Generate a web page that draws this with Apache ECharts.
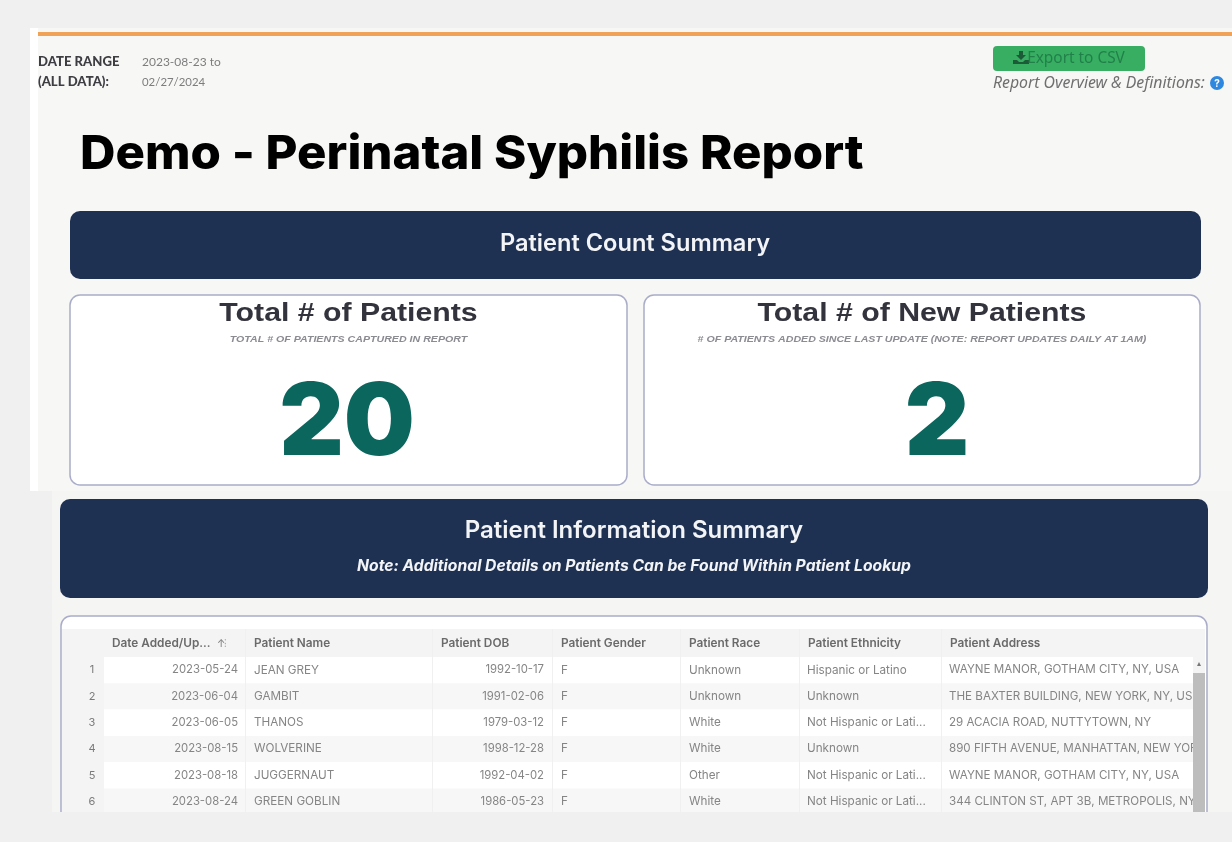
<!DOCTYPE html>
<html><head><meta charset="utf-8">
<style>html,body{margin:0;padding:0;background:#f0f0f0}#c{width:1232px;height:842px;filter:blur(.7px)}</style>
<script src="https://cdn.jsdelivr.net/npm/echarts@6/dist/echarts.min.js"></script>
</head><body><div id="c"></div>
<script>
const reportTitle = 'Demo - Perinatal Syphilis Report';
const dateRangeLabels = ['DATE RANGE', '(ALL DATA):'];
const dateRangeValues = ['2023-08-23 to', '02/27/2024'];
const totalPatients = 20;
const newPatients = 2;
const columns = ['', 'Date Added/Up...', 'Patient Name', 'Patient DOB', 'Patient Gender', 'Patient Race', 'Patient Ethnicity', 'Patient Address'];
const dateAdded = ['2023-05-24','2023-06-04','2023-06-05','2023-08-15','2023-08-18','2023-08-24'];
const names = ['JEAN GREY','GAMBIT','THANOS','WOLVERINE','JUGGERNAUT','GREEN GOBLIN'];
const dob = ['1992-10-17','1991-02-06','1979-03-12','1998-12-28','1992-04-02','1986-05-23'];
const gender = ['F','F','F','F','F','F'];
const race = ['Unknown','Unknown','White','White','Other','White'];
const ethnicity = ['Hispanic or Latino','Unknown','Not Hispanic or Lati...','Unknown','Not Hispanic or Lati...','Not Hispanic or Lati...'];
const address = ['WAYNE MANOR, GOTHAM CITY, NY, USA','THE BAXTER BUILDING, NEW YORK, NY, USA','29 ACACIA ROAD, NUTTYTOWN, NY','890 FIFTH AVENUE, MANHATTAN, NEW YORK','WAYNE MANOR, GOTHAM CITY, NY, USA','344 CLINTON ST, APT 3B, METROPOLIS, NY'];

const NAVY = '#1f3153', TEAL = '#0b665e', BORDER = '#a9adc9', SANS = 'Inter, "Noto Sans", sans-serif';
const g = [];
const rect = (x, y, w, h, fill, r, stroke, lw) => g.push({type:'rect', shape:{x, y, width:w, height:h, r:r||0},
  style:{fill:fill, stroke:stroke||null, lineWidth:lw||0}, silent:true});
const text = (x, y, t, o, sx) => g.push({type:'text', x, y, scaleX:sx||1, silent:true, style:Object.assign({text:String(t),
  fontFamily:SANS, fontSize:11, fill:'#333', align:'left', verticalAlign:'middle'}, o||{})});
const poly = (points, fill) => g.push({type:'polygon', shape:{points}, style:{fill}, silent:true});

// page panels
rect(30, 28, 1202, 463, '#f7f7f6');
rect(30, 28, 8, 463, '#ffffff');
rect(52, 491, 1180, 321, '#f5f5f4');
rect(38, 32, 1194, 4, '#f0a257');

// header left
dateRangeLabels.forEach((t, i) => text(38, 61.5 + i*20.5, t, {fontWeight:900, fontSize:12.5, fill:'#3d3d42', fontFamily:'Lato, sans-serif'}, 1.05));
dateRangeValues.forEach((t, i) => text(142, 62.5 + i*19.5, t, {fontSize:12, fill:'#7d7d7d', fontFamily:'Lato, sans-serif'}, i ? 0.95 : 1));

// export button
rect(993, 46, 152, 25, '#38ae62', 4);
poly([[1019,51],[1023,51],[1023,55],[1026,55],[1021,60],[1016,55],[1019,55]], '#1d5a37');
poly([[1013,60],[1017,60],[1019,62],[1023,62],[1025,60],[1029,60],[1029,64],[1013,64]], '#1d5a37');
text(1076, 58.5, 'Export to CSV', {align:'center', fontSize:15.4, fill:'#218049', fontFamily:'"Noto Sans", sans-serif'});
text(993, 83, 'Report Overview & Definitions:', {fontSize:15.8, fontStyle:'italic', fill:'#6f6f6f', fontFamily:'"Noto Sans", sans-serif'});
g.push({type:'circle', shape:{cx:1217, cy:83, r:7}, style:{fill:'#2f88e0'}, silent:true});
text(1217, 83.5, '?', {align:'center', fontSize:10, fontWeight:700, fill:'#ffffff'});

// title
text(80, 155, reportTitle, {fontSize:47, fontWeight:800, fill:'#000000', fontFamily:'Inter, sans-serif'}, 1.045);

// summary banner
rect(70, 211, 1131, 68, NAVY, 10);
text(635, 244, 'Patient Count Summary', {align:'center', fontSize:23.6, fontWeight:600, fill:'#f3f4f6'});

// KPI cards
const cards = [
  {x:70, w:557, t:'Total # of Patients', s:'TOTAL # OF PATIENTS CAPTURED IN REPORT', v:totalPatients, vx:347},
  {x:644, w:556, t:'Total # of New Patients', s:'# OF PATIENTS ADDED SINCE LAST UPDATE (NOTE: REPORT UPDATES DAILY AT 1AM)', v:newPatients, vx:937}
];
cards.forEach(c => {
  rect(c.x, 295, c.w, 190, '#ffffff', 10, BORDER, 1.5);
  const cx = c.x + c.w/2;
  text(cx, 314, c.t, {align:'center', fontSize:25, fontWeight:700, fill:'#33333d', fontFamily:'"Liberation Sans", sans-serif'}, 1.21);
  text(cx, 339.5, c.s, {align:'center', fontSize:9, fontStyle:'italic', fontWeight:600, fill:'#8b8b92', fontFamily:'"Liberation Sans", sans-serif'}, 1.18);
  text(c.vx, 425, c.v, {align:'center', fontSize:100, fontWeight:900, fill:TEAL, fontFamily:'Inter, sans-serif'});
});

// information banner
rect(60, 499, 1148, 99, NAVY, 10);
text(634, 531, 'Patient Information Summary', {align:'center', fontSize:24, fontWeight:600, fill:'#f3f4f6'});
text(634, 566, 'Note: Additional Details on Patients Can be Found Within Patient Lookup', {align:'center', fontSize:15.7, fontWeight:700, fontStyle:'italic', fill:'#f3f4f6'});

// table card (runs off the crop at the bottom)
rect(61, 616, 1146, 230, '#ffffff', 10, BORDER, 1.5);
const colX = [62, 104, 245, 432, 552, 680, 799, 941, 1192];
const rowTop = 657, rowH = 26.3;
rect(62, 629, 1143, 28, '#f3f4f3');
rect(62, 657, 42, 160, '#f3f4f3');
dateAdded.forEach((_, i) => rect(104, rowTop + i*rowH, 1101, rowH, i % 2 ? '#f6f7f6' : '#ffffff'));
colX.slice(2, 8).forEach(x => rect(x, 629, 1, 190, '#f0f0f0'));
columns.forEach((c, i) => { if (c) text(colX[i] + (i === 1 ? 8 : 9), 643.5, c, {fontSize:11.8, fontWeight:600, fill:'#6a6a6a'}); });
text(217, 644, '↑', {fontSize:10, fill:'#777'});
text(224, 644, '⁝', {fontSize:10, fill:'#aaa'});
dateAdded.forEach((_, i) => {
  const y = rowTop + i*rowH + 13;
  const cell = {fontSize:11.7, fill:'#858585'};
  const num = {fontSize:11.3, fill:'#858585', align:'right'};
  text(92, y, i + 1, {fontSize:11, fill:'#7a7a7a', align:'center'});
  text(238, y, dateAdded[i], num);
  text(254, y, names[i], cell);
  text(544, y, dob[i], num);
  text(561, y, gender[i], cell);
  text(689, y, race[i], cell);
  text(807, y, ethnicity[i], cell);
  text(949, y, address[i], {...cell, fontSize:11.6, width:252, overflow:'truncate', ellipsis:''});
});
// scrollbar (also clips long addresses)
rect(1193, 657, 12, 160, '#f4f4f4');
rect(1193, 673, 12, 140, '#bdbdbd');
text(1199, 664, '▴', {align:'center', fontSize:8, fill:'#777'});
// bottom crop
rect(0, 812, 1232, 30, '#f0f0f0');

const chart = echarts.init(document.getElementById('c'), null, {width:1232, height:842});
chart.setOption({animation:false, backgroundColor:'#f0f0f0', graphic:{elements:g}});
</script></body></html>
